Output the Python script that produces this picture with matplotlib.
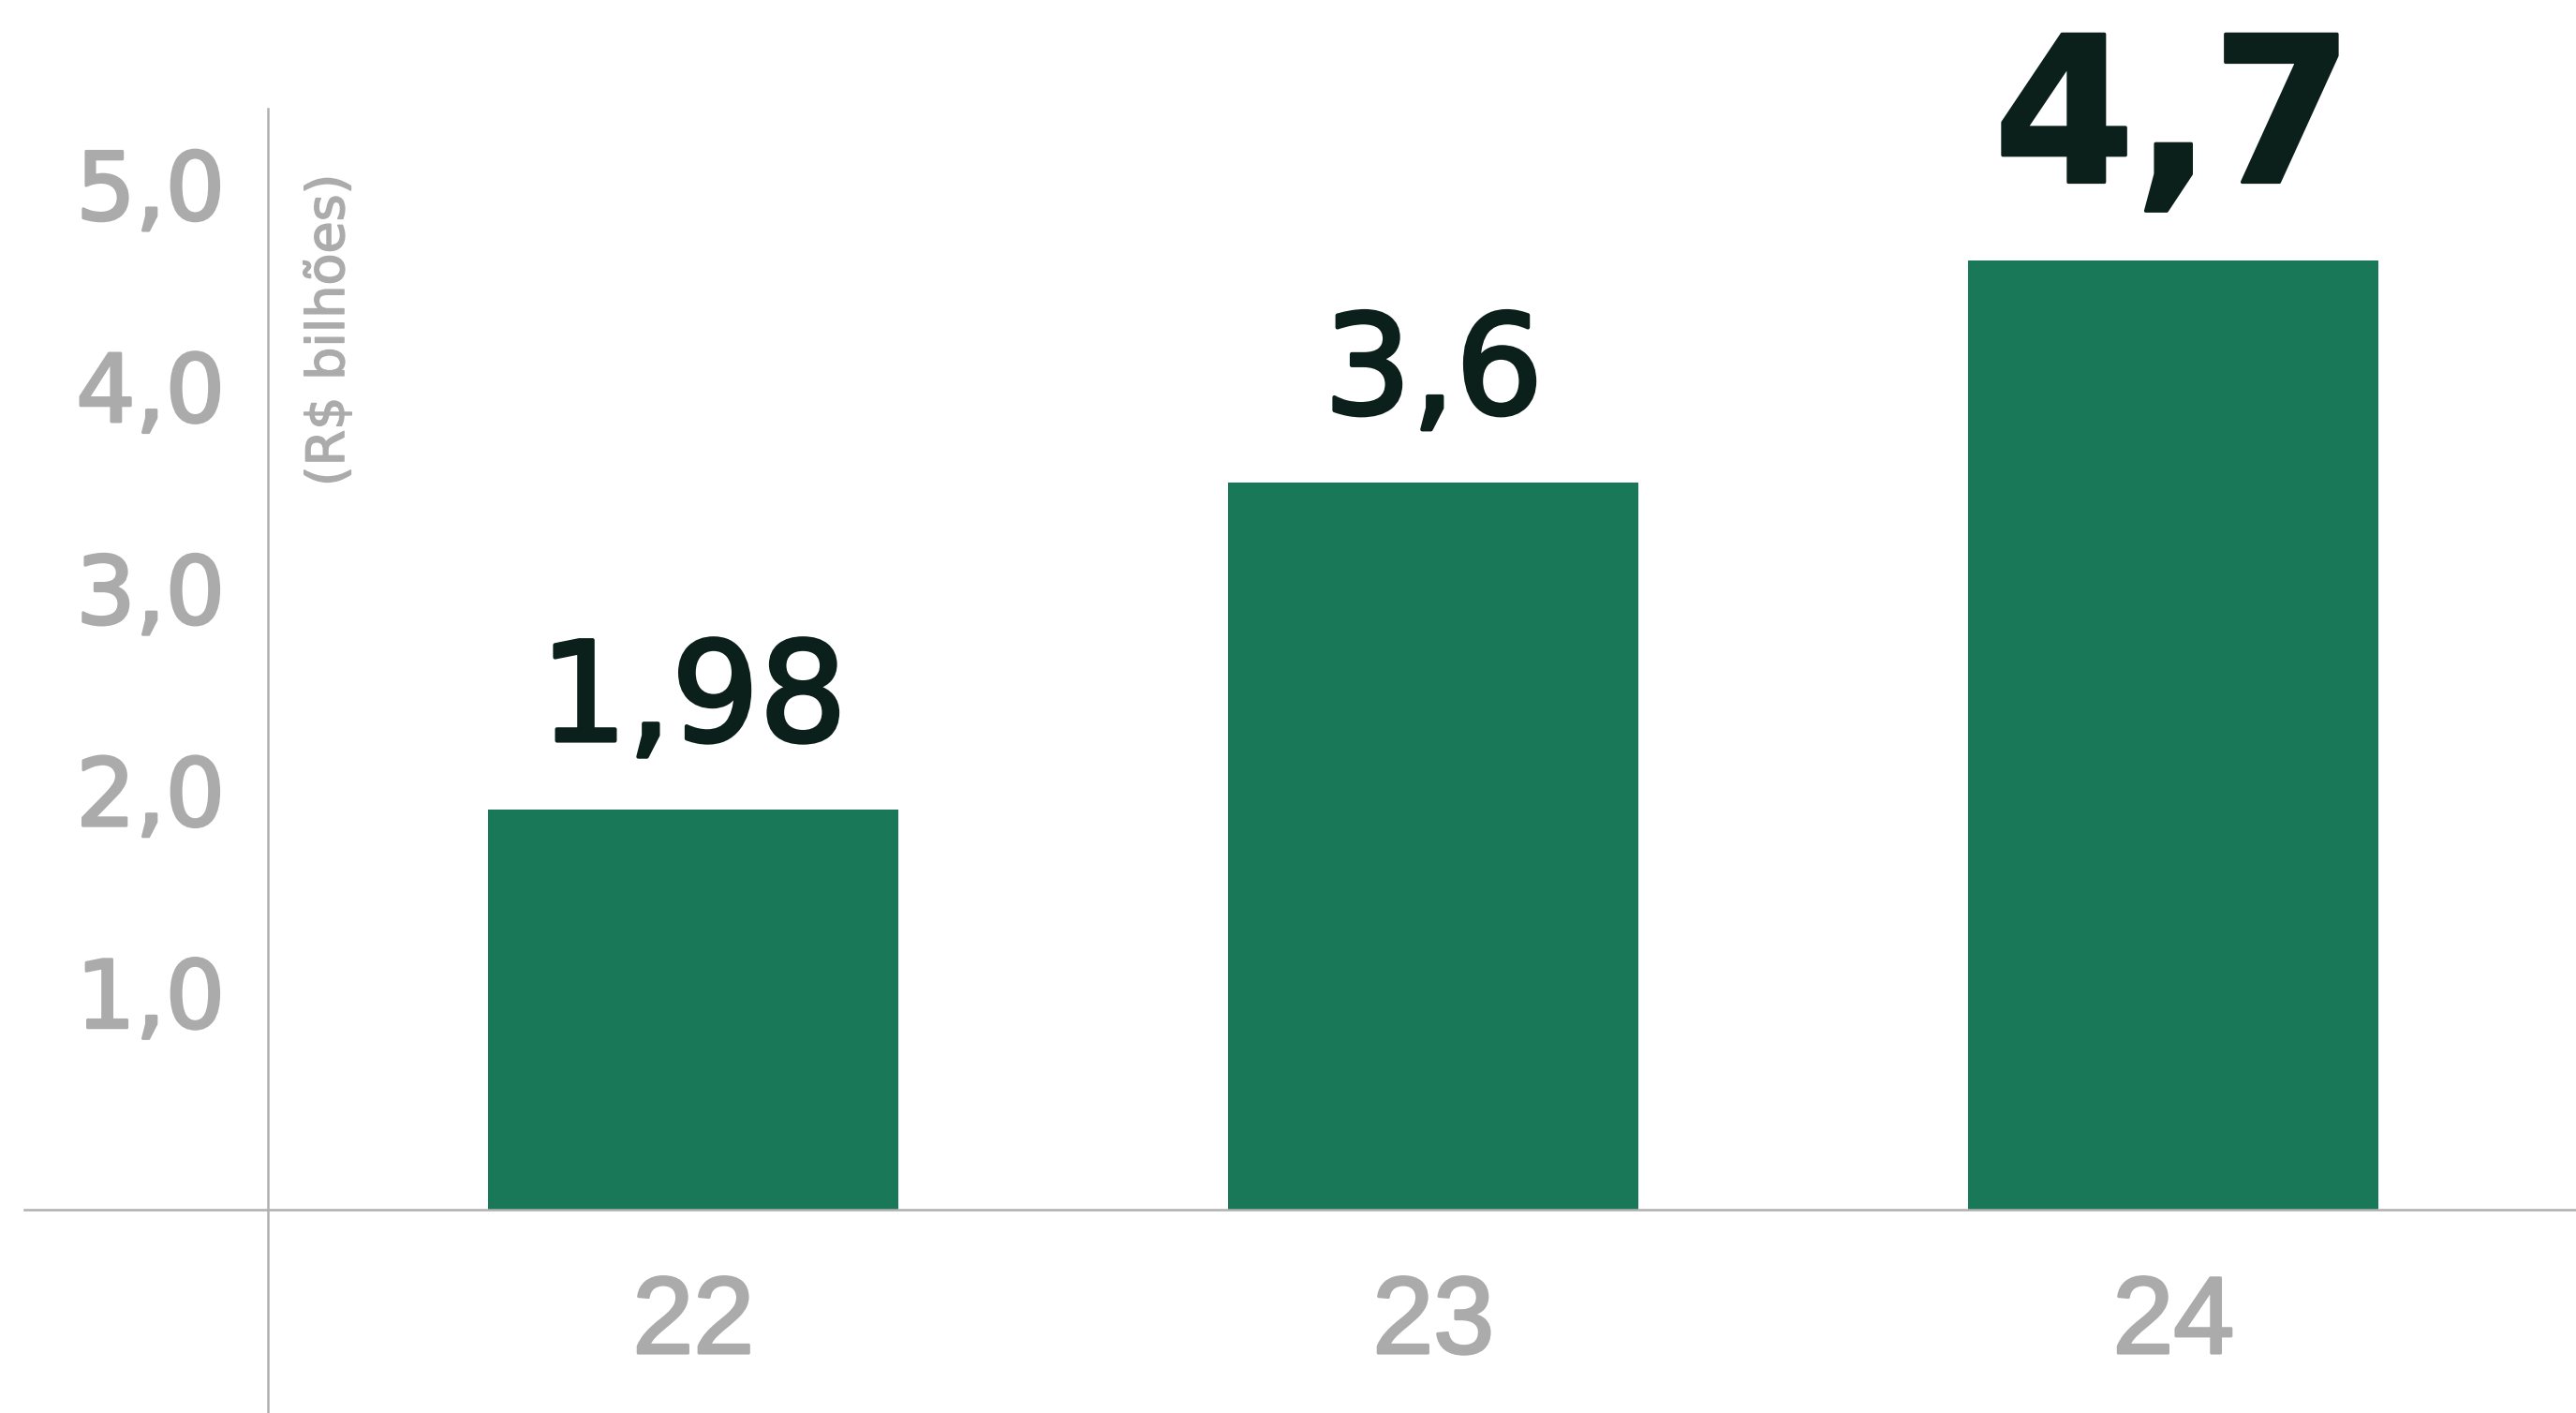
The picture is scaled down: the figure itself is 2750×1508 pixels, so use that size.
import matplotlib.pyplot as plt
import matplotlib.patheffects as pe
from matplotlib.lines import Line2D
from matplotlib.transforms import ScaledTranslation

# Dados do gráfico
anos = ['22', '23', '24']
valores = [1.98, 3.6, 4.7]
ticks_y = [1.0, 2.0, 3.0, 4.0, 5.0]
ticks_y_labels = ['1,0', '2,0', '3,0', '4,0', '5,0']
unidade = '(R$ bilhões)'

verde = '#187858'
escuro = '#0C201B'
cinza = '#ABABAB'
linha = '#B0B0B0'

W, H = 2750, 1508
fig = plt.figure(figsize=(W / 100, H / 100), dpi=100)
fig.patch.set_facecolor('white')

# eixo: esquerda na linha vertical, base na linha horizontal
ax = fig.add_axes([286 / W, (H - 1291) / H, (W - 286) / W, (1291 - 116) / H])
ax.set_facecolor('none')

x = list(range(len(anos)))
ax.bar(x, valores, width=0.555, color=verde, zorder=2)

ax.set_xlim(-0.575, 2.544)
ax.set_ylim(0, 5.45)

for s in ax.spines.values():
    s.set_visible(False)

# contorno leve para engrossar o texto
grosso_cinza = [pe.withStroke(linewidth=2.2, foreground=cinza)]

# rótulos do eixo Y
ax.set_yticks(ticks_y)
ax.set_yticklabels(ticks_y_labels)
ax.tick_params(axis='y', length=0, pad=33, labelsize=72, labelcolor=cinza)
for lb in ax.get_yticklabels():
    lb.set_fontfamily('DejaVu Sans')
    lb.set_path_effects(grosso_cinza)
    lb.set_transform(lb.get_transform() + ScaledTranslation(0, 12 / 72, fig.dpi_scale_trans))

# rótulos do eixo X
ax.set_xticks(x)
ax.set_xticklabels(anos)
ax.tick_params(axis='x', length=0, pad=49, labelsize=84, labelcolor=cinza)
for lb in ax.get_xticklabels():
    lb.set_fontfamily('Liberation Sans')
    lb.set_path_effects(grosso_cinza)

# valores sobre as barras
for i, v in enumerate(valores):
    txt = ('%g' % v).replace('.', ',')
    destaque = i == len(valores) - 1
    ax.annotate(txt, xy=(i, v), xytext=(0, 60 if destaque else 53),
                textcoords='offset points', ha='center', va='baseline',
                fontsize=156 if destaque else 106,
                fontweight='bold' if destaque else 'normal',
                color=escuro, family='DejaVu Sans',
                path_effects=[pe.withStroke(linewidth=2.5 if destaque else 3,
                                            foreground=escuro)])

# linhas dos eixos (estendidas como no original)
fig.add_artist(Line2D([286 / W, 286 / W], [0, 1 - 116 / H],
                      transform=fig.transFigure, color=linha, lw=1.8))
fig.add_artist(Line2D([26 / W, 1], [1 - 1291 / H, 1 - 1291 / H],
                      transform=fig.transFigure, color=linha, lw=1.8))

# unidade
fig.text(352 / W, 1 - 186 / H, unidade, rotation=90, ha='center', va='top',
         fontsize=40, color=cinza, family='DejaVu Sans',
         path_effects=[pe.withStroke(linewidth=1.2, foreground=cinza)])

fig.savefig('out.png', dpi=100, facecolor='white')
